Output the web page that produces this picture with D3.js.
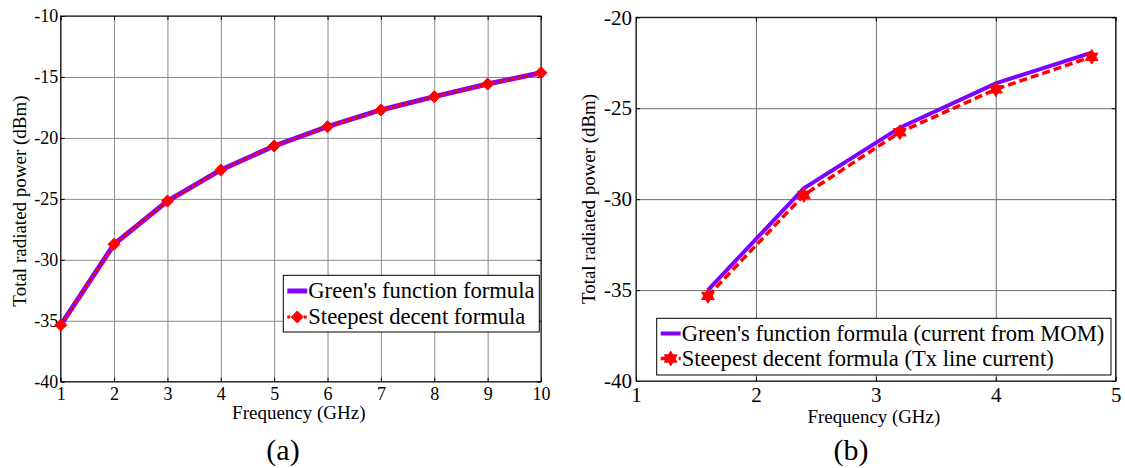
<!DOCTYPE html>
<html>
<head>
<meta charset="utf-8">
<script src="https://cdn.jsdelivr.net/npm/d3@7"></script>
<style>
  html, body { margin: 0; padding: 0; background: #fff; }
  svg { display: block; }
  text { font-family: "Liberation Serif", "Times New Roman", serif; fill: #000; }
</style>
</head>
<body>
<svg id="fig" width="1125" height="468"></svg>
<script>
// ---- Panel (a): frequency sweep 1–10 GHz ----
const freqA  = [1, 2, 3, 4, 5, 6, 7, 8, 9, 10];
const greenA = [-35.35, -28.73, -25.18, -22.63, -20.66, -19.08, -17.71, -16.62, -15.58, -14.65];
const steepA = [-35.35, -28.73, -25.18, -22.63, -20.66, -19.08, -17.71, -16.62, -15.58, -14.65];
const xTicksA = [1, 2, 3, 4, 5, 6, 7, 8, 9, 10];
const yTicksA = [-40, -35, -30, -25, -20, -15, -10];
const legendA = ["Green's function formula", "Steepest decent formula"];

// ---- Panel (b): frequency sweep 1.6–4.8 GHz ----
const freqB  = [1.6, 2.4, 3.2, 4.0, 4.8];
const greenB = [-35.0, -29.4, -26.07, -23.63, -21.94];
const steepB = [-35.32, -29.77, -26.32, -23.96, -22.17];
const xTicksB = [1, 2, 3, 4, 5];
const yTicksB = [-40, -35, -30, -25, -20];
const legendB = ["Green's function formula (current from MOM)", "Steepest decent formula (Tx line current)"];

const xLabel = "Frequency (GHz)";
const yLabel = "Total radiated power (dBm)";

const PURPLE = "#8000ff";
const RED = "#ff0000";

// plain hyphen-minus tick text
const fmt = d => String(d);

// Square diamond (rotated square), r = half diagonal derived from area
const diamondType = {
  draw(ctx, size) {
    const r = Math.sqrt(size / 2);
    ctx.moveTo(0, -r); ctx.lineTo(r, 0); ctx.lineTo(0, r); ctx.lineTo(-r, 0); ctx.closePath();
  }
};
// Six-pointed star
const hexagramType = {
  draw(ctx, size) {
    const R = Math.sqrt(size) * 0.62, r = R / Math.sqrt(3);
    for (let i = 0; i < 12; i++) {
      const a = -Math.PI / 2 + i * Math.PI / 6;
      const rr = i % 2 === 0 ? R : r;
      const x = rr * Math.cos(a), y = rr * Math.sin(a);
      if (i === 0) ctx.moveTo(x, y); else ctx.lineTo(x, y);
    }
    ctx.closePath();
  }
};

const svg = d3.select("#fig");

function panel(o) {
  const g = svg.append("g");
  const x = d3.scaleLinear().domain(o.xDomain).range([o.left, o.right]);
  const y = d3.scaleLinear().domain(o.yDomain).range([o.bottom, o.top]);
  const W = o.right - o.left, H = o.bottom - o.top;

  // grid
  const grid = g.append("g").attr("class", "grid");
  grid.append("g").attr("transform", `translate(0,${o.bottom})`)
    .call(d3.axisBottom(x).tickValues(o.xTicks).tickSize(-H).tickFormat(""))
    .call(s => s.select(".domain").remove());
  grid.append("g").attr("transform", `translate(${o.left},0)`)
    .call(d3.axisLeft(y).tickValues(o.yTicks).tickSize(-W).tickFormat(""))
    .call(s => s.select(".domain").remove());
  grid.selectAll("line").attr("stroke", o.gridColor).attr("stroke-width", 1);

  // axes with inward ticks on all four sides
  const ax = g.append("g");
  ax.append("g").attr("transform", `translate(0,${o.bottom})`)
    .call(d3.axisBottom(x).tickValues(o.xTicks).tickSizeInner(-4).tickSizeOuter(0).tickPadding(o.xPad).tickFormat(fmt));
  ax.append("g").attr("transform", `translate(${o.left},0)`)
    .call(d3.axisLeft(y).tickValues(o.yTicks).tickSizeInner(-4).tickSizeOuter(0).tickPadding(o.yPad).tickFormat(fmt));
  ax.append("g").attr("transform", `translate(0,${o.top})`)
    .call(d3.axisTop(x).tickValues(o.xTicks).tickSizeInner(-4).tickSizeOuter(0).tickFormat(""));
  ax.append("g").attr("transform", `translate(${o.right},0)`)
    .call(d3.axisRight(y).tickValues(o.yTicks).tickSizeInner(-4).tickSizeOuter(0).tickFormat(""));
  ax.selectAll(".domain").remove();
  ax.selectAll("line").attr("stroke", "#000");
  ax.selectAll("text").attr("font-size", o.tickFont).attr("fill", "#000");
  g.append("rect").attr("x", o.left).attr("y", o.top).attr("width", W).attr("height", H)
    .attr("fill", "none").attr("stroke", "#000").attr("stroke-width", 1);

  // series
  const line = d3.line().x(d => x(d[0])).y(d => y(d[1]));
  const s1 = o.freq.map((f, i) => [f, o.green[i]]);
  const s2 = o.freq.map((f, i) => [f, o.steep[i]]);
  g.append("path").attr("d", line(s1)).attr("fill", "none")
    .attr("stroke", PURPLE).attr("stroke-width", o.purpleW).attr("stroke-linejoin", "miter");
  g.append("path").attr("d", line(s2)).attr("fill", "none")
    .attr("stroke", RED).attr("stroke-width", o.redW).attr("stroke-dasharray", o.dash);
  const sym = d3.symbol().type(o.marker).size(o.markerSize);
  g.selectAll("path.mk").data(s2).join("path").attr("class", "mk")
    .attr("transform", d => `translate(${x(d[0])},${y(d[1])})`)
    .attr("d", sym).attr("fill", RED).attr("stroke", RED).attr("stroke-width", 1);

  // axis titles and panel caption
  g.append("text").attr("x", (o.left + o.right) / 2 + o.xLabelDx).attr("y", o.xLabelY)
    .attr("text-anchor", "middle").attr("font-size", o.labelFont).text(xLabel);
  g.append("text").attr("transform", `translate(${o.yLabelX},${o.yLabelMid}) rotate(-90)`)
    .attr("text-anchor", "middle").attr("font-size", o.labelFont).text(yLabel);
  g.append("text").attr("x", o.capX).attr("y", 460).attr("text-anchor", "middle")
    .attr("font-size", 30).text(o.caption);

  // legend
  const L = o.legend;
  const lg = g.append("g");
  lg.append("rect").attr("x", L.x).attr("y", L.y).attr("width", L.w).attr("height", L.h)
    .attr("fill", "#fff").attr("stroke", "#000").attr("stroke-width", 1);
  const rows = [L.row1, L.row2];
  const sx0 = L.x + 4, sx1 = L.x + 24;
  lg.append("line").attr("x1", sx0).attr("x2", sx1).attr("y1", rows[0]).attr("y2", rows[0])
    .attr("stroke", PURPLE).attr("stroke-width", o.purpleW);
  lg.append("line").attr("x1", sx0).attr("x2", sx1).attr("y1", rows[1]).attr("y2", rows[1])
    .attr("stroke", RED).attr("stroke-width", o.redW).attr("stroke-dasharray", L.dash);
  lg.append("path").attr("transform", `translate(${(sx0 + sx1) / 2},${rows[1]})`)
    .attr("d", sym).attr("fill", RED).attr("stroke", RED);
  o.names.forEach((t, i) => {
    lg.append("text").attr("x", L.x + 25).attr("y", rows[i] + 7)
      .attr("font-size", 22.6).text(t);
  });
}

panel({
  xDomain: [1, 10], yDomain: [-40, -10],
  left: 60.7, right: 541, top: 16, bottom: 381.7,
  xTicks: xTicksA, yTicks: yTicksA, gridColor: "#8a8a8a",
  xPad: 5.5, yPad: 2.5, tickFont: 18, labelFont: 19,
  freq: freqA, green: greenA, steep: steepA,
  purpleW: 5, redW: 3, dash: "3.5,3",
  marker: diamondType, markerSize: 72,
  xLabelDx: -2, xLabelY: 419, yLabelX: 26, yLabelMid: 201, capX: 283, caption: "(a)",
  names: legendA,
  legend: { x: 283.3, y: 275.3, w: 256, h: 56.7, row1: 291, row2: 317, dash: "3,2.5" }
});

panel({
  xDomain: [1, 5], yDomain: [-40, -20],
  left: 636, right: 1115.7, top: 17.3, bottom: 381,
  xTicks: xTicksB, yTicks: yTicksB, gridColor: "#6e6e6e",
  xPad: 6.5, yPad: 4, tickFont: 21, labelFont: 18.9,
  freq: freqB, green: greenB, steep: steepB,
  purpleW: 4, redW: 3.5, dash: "8,4",
  marker: hexagramType, markerSize: 140,
  xLabelDx: -2, xLabelY: 423, yLabelX: 594.5, yLabelMid: 199, capX: 851, caption: "(b)",
  names: legendB,
  legend: { x: 656.7, y: 318.3, w: 454.3, h: 56.7, row1: 333.5, row2: 358.5, dash: "6,3" }
});
</script>
</body>
</html>
